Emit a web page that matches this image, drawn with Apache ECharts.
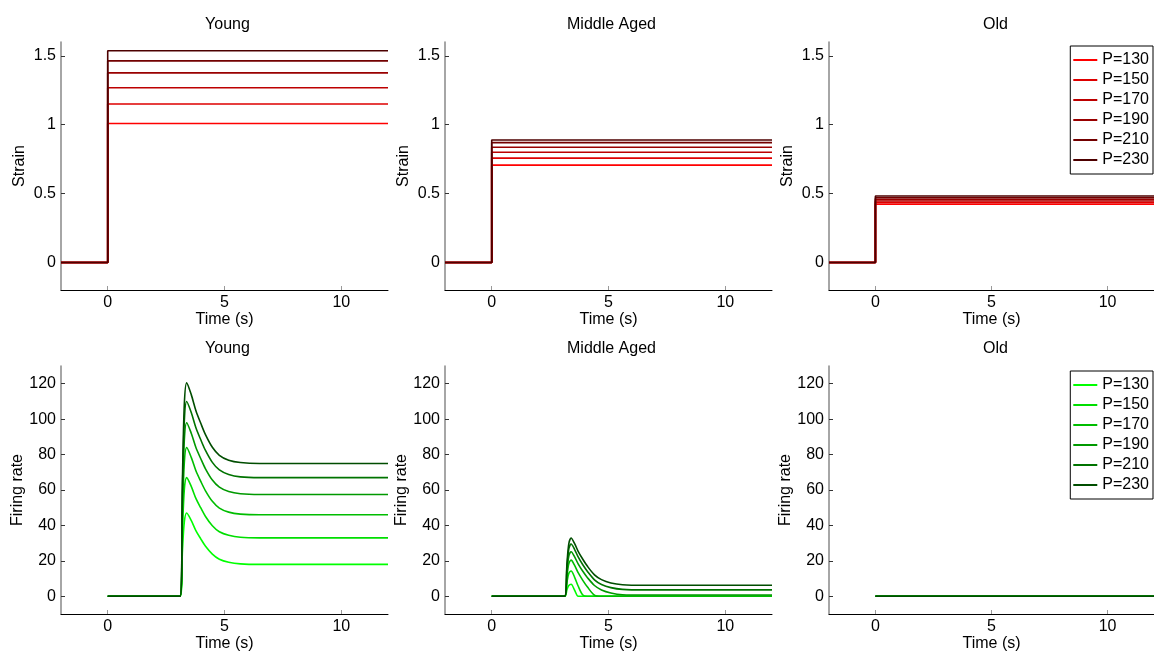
<!DOCTYPE html>
<html>
<head>
<meta charset="utf-8">
<script src="https://cdn.jsdelivr.net/npm/echarts@6/dist/echarts.min.js"></script>
<style>
  html, body { margin: 0; padding: 0; background: #fff; }
  #main { width: 1154px; height: 655px; }
</style>
</head>
<body>
<div id="main"></div>
<script>
var pressures = ['P=130', 'P=150', 'P=170', 'P=190', 'P=210', 'P=230'];
var groups = ['Young', 'Middle Aged', 'Old'];
var reds = ['#ff0000', '#de0000', '#bd0000', '#990000', '#730000', '#4d0000'];
var greens = ['#00ff00', '#00de00', '#00bd00', '#009900', '#007300', '#004d00'];

// strain: step at t=0 to a plateau
var stepTimes = [-2, 0, 0, 12];
var strainYoung = [1.009, 1.15, 1.268, 1.376, 1.463, 1.536];
var strainMiddle = [0.706, 0.757, 0.80, 0.836, 0.87, 0.889];
var strainOld = [0.422, 0.434, 0.446, 0.458, 0.47, 0.482];

// firing rate
var youngTimes = [0, 3.1, 3.2, 3.28, 3.38, 3.58, 3.78, 3.98, 4.18, 4.48, 4.78, 5.18, 5.68, 6.5, 12];
var rateYoung = [
  [0, 0, 26, 42, 47, 42.7, 36.9, 32.5, 28.4, 23.8, 20.9, 19.2, 18.3, 18, 18],
  [0, 0, 36.9, 60.3, 67, 61.9, 55.1, 50, 45.2, 39.8, 36.4, 34.4, 33.3, 33, 33],
  [0, 0, 46.2, 75.6, 84, 78.3, 70.7, 65, 59.7, 53.6, 49.8, 47.5, 46.4, 46, 46],
  [0, 0, 53.9, 88.2, 98, 91.9, 83.8, 77.8, 72.1, 65.6, 61.6, 59.1, 57.9, 57.5, 57.5],
  [0, 0, 60.5, 99, 110, 103.6, 95, 88.5, 82.5, 75.6, 71.3, 68.7, 67.4, 67, 67],
  [0, 0, 66.3, 108.5, 120.5, 113.7, 104.6, 97.8, 91.4, 84.1, 79.6, 76.8, 75.5, 75, 75]
];
var middleTimes = [0, 3.12, 3.22, 3.3, 3.4, 3.55, 3.7, 3.9, 4.1, 4.4, 4.7, 5.1, 5.6, 6.5, 12];
var rateMiddle = [
  [0, 0, 3.7, 6.1, 6.8, 3.4, 0, 0, 0, 0, 0, 0, 0, 0, 0],
  [0, 0, 7.9, 12.9, 14.3, 10.7, 5.8, 0.7, 0, 0, 0, 0, 0, 0, 0],
  [0, 0, 11.2, 18.4, 20.4, 17.4, 13.3, 9.0, 5.2, 0.6, 0, 0, 0, 0, 0],
  [0, 0, 13.8, 22.6, 25.1, 22.2, 18.3, 14.1, 10.5, 6.1, 3.6, 1.9, 0.9, 0.7, 0.7],
  [0, 0, 16.2, 26.6, 29.5, 26.4, 22.2, 17.8, 14.0, 9.3, 6.7, 4.9, 3.9, 3.6, 3.6],
  [0, 0, 18.1, 29.6, 32.9, 29.7, 25.4, 20.9, 16.9, 12.1, 9.4, 7.5, 6.5, 6.2, 6.2]
];
var oldTimes = [0, 12];
var rateOld = [0, 0];

var timeTicks = [0, 5, 10];
var strainTicks = [0, 0.5, 1, 1.5];
var rateTicks = [0, 20, 40, 60, 80, 100, 120];

var font = "'Liberation Sans', Arial, sans-serif";
var colLeft = [61, 445, 829];
var rowTop = [42, 366];
var plotW = 327, plotH = 248;

var chart = echarts.init(document.getElementById('main'));

var grids = [], xAxes = [], yAxes = [], titles = [], series = [];

for (var r = 0; r < 2; r++) {
  for (var c = 0; c < 3; c++) {
    var k = r * 3 + c;
    grids.push({ left: colLeft[c], top: rowTop[r], width: plotW, height: plotH });
    titles.push({
      text: groups[c],
      left: colLeft[c] + plotW / 2 - 2,
      top: rowTop[r] - 30,
      textAlign: 'center',
      textStyle: { fontFamily: font, fontSize: 16, fontWeight: 'normal', color: '#000' }
    });
    xAxes.push({
      type: 'value', gridIndex: k, min: -2, max: 12,
      name: 'Time (s)', nameLocation: 'middle', nameGap: 20,
      nameTextStyle: { fontFamily: font, fontSize: 16, color: '#000' },
      axisLine: { show: true, onZero: false, lineStyle: { color: '#000', width: 1 } },
      axisTick: { show: true, inside: true, length: 4, customValues: timeTicks, lineStyle: { color: '#999' } },
      axisLabel: { customValues: timeTicks, margin: 5, fontFamily: font, fontSize: 16, color: '#000' },
      splitLine: { show: false }
    });
    var ticks = r === 0 ? strainTicks : rateTicks;
    yAxes.push({
      type: 'value', gridIndex: k,
      min: r === 0 ? -0.2 : -10, max: r === 0 ? 1.6 : 130,
      name: r === 0 ? 'Strain' : 'Firing rate', nameLocation: 'middle', nameGap: 33,
      nameTextStyle: { fontFamily: font, fontSize: 16, color: '#000' },
      axisLine: { show: true, onZero: false, lineStyle: { color: '#888', width: 1.5 } },
      axisTick: { show: true, inside: true, length: 4, customValues: ticks, lineStyle: { color: '#333' } },
      axisLabel: { customValues: ticks, margin: 5, fontFamily: font, fontSize: 16, color: '#000' },
      splitLine: { show: false }
    });
  }
}

function pairs(times, vals) {
  return times.map(function (t, i) { return [t, vals[i]]; });
}

var strains = [strainYoung, strainMiddle, strainOld];
for (var c2 = 0; c2 < 3; c2++) {
  for (var i = 0; i < 6; i++) {
    var p = strains[c2][i];
    series.push({
      name: pressures[i], type: 'line', xAxisIndex: c2, yAxisIndex: c2,
      data: pairs(stepTimes, [0, 0, p, p]),
      showSymbol: false, color: reds[i], lineStyle: { color: reds[i], width: 1.6 }
    });
  }
}
for (var i2 = 0; i2 < 6; i2++) {
  series.push({
    name: pressures[i2], type: 'line', xAxisIndex: 3, yAxisIndex: 3,
    data: pairs(youngTimes, rateYoung[i2]), smooth: 0.3,
    showSymbol: false, color: greens[i2], lineStyle: { color: greens[i2], width: 1.6 }
  });
}
for (var i3 = 0; i3 < 6; i3++) {
  series.push({
    name: pressures[i3], type: 'line', xAxisIndex: 4, yAxisIndex: 4,
    data: pairs(middleTimes, rateMiddle[i3]), smooth: 0.3,
    showSymbol: false, color: greens[i3], lineStyle: { color: greens[i3], width: 1.6 }
  });
}
for (var i4 = 0; i4 < 6; i4++) {
  series.push({
    name: pressures[i4], type: 'line', xAxisIndex: 5, yAxisIndex: 5,
    data: pairs(oldTimes, rateOld),
    showSymbol: false, color: greens[i4], lineStyle: { color: greens[i4], width: 1.6 }
  });
}

function legendFor(top, colors) {
  return {
    right: 1, top: top, orient: 'vertical',
    icon: 'rect', itemWidth: 24, itemHeight: 2, itemGap: 0, itemTextGap: 2,
    padding: [4, 4, 4, 3],
    borderColor: '#000', borderWidth: 1, backgroundColor: '#fff',
    selectedMode: false,
    textStyle: { fontFamily: font, fontSize: 16, lineHeight: 20, color: '#000' },
    data: pressures.map(function (n, i) {
      return { name: n, itemStyle: { color: colors[i] } };
    })
  };
}

var option = {
  animation: false,
  backgroundColor: '#fff',
  title: titles,
  grid: grids,
  xAxis: xAxes,
  yAxis: yAxes,
  legend: [legendFor(46, reds), legendFor(371, greens)],
  series: series
};
chart.setOption(option);
</script>
</body>
</html>
